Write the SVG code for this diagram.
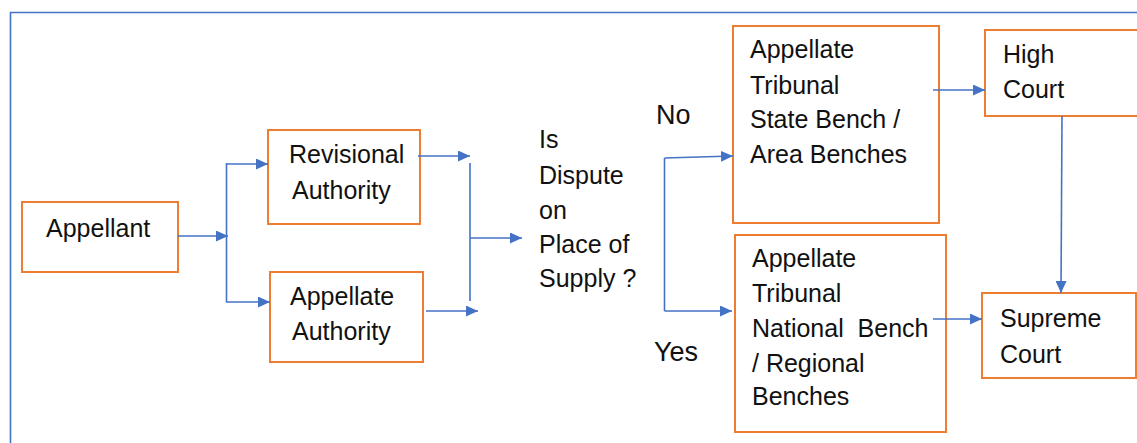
<svg xmlns="http://www.w3.org/2000/svg" width="1137" height="443" viewBox="0 0 1137 443">
  <style>
    .box { fill: #ffffff; stroke: #ED7D31; stroke-width: 2; }
    .lbl { font-family: "Liberation Sans", Arial, sans-serif; font-size: 25px; fill: #111111; }
    .big { font-size: 27px; }
    .wire { fill: none; stroke: #4472C4; stroke-width: 1.6; }
    .frame { fill: none; stroke: #4472C4; stroke-width: 1.6; }
  </style>
  <defs>
    <marker id="arrow" markerUnits="userSpaceOnUse" markerWidth="13" markerHeight="11" refX="12" refY="5.5" orient="auto">
      <path d="M0,0 L12,5.5 L0,11 z" fill="#4472C4"/>
    </marker>
  </defs>

  <rect width="1137" height="443" fill="#ffffff"/>
  <!-- outer border, open on the right and bottom -->
  <path class="frame" d="M10.5,443 V12.5 H1137"/>

  <g id="appellant">
    <rect class="box" x="22" y="202" width="156" height="70"/>
    <text class="lbl" x="46" y="237">Appellant</text>
  </g>

  <g id="revisional-authority">
    <rect class="box" x="268" y="130" width="152" height="94"/>
    <text class="lbl" x="289" y="163">Revisional</text>
    <text class="lbl" x="292" y="199">Authority</text>
  </g>

  <g id="appellate-authority">
    <rect class="box" x="270" y="272" width="153" height="90"/>
    <text class="lbl" x="290" y="305">Appellate</text>
    <text class="lbl" x="292" y="340">Authority</text>
  </g>

  <g id="question">
    <text class="lbl" x="539" y="148">Is</text>
    <text class="lbl" x="539" y="184">Dispute</text>
    <text class="lbl" x="539" y="219">on</text>
    <text class="lbl" x="539" y="253">Place of</text>
    <text class="lbl" x="539" y="287">Supply ?</text>
  </g>

  <g id="branch-labels">
    <text class="lbl big" x="656" y="124">No</text>
    <text class="lbl big" x="654" y="361">Yes</text>
  </g>

  <g id="tribunal-state">
    <rect class="box" x="733" y="26" width="206" height="197"/>
    <text class="lbl" x="750" y="58">Appellate</text>
    <text class="lbl" x="750" y="94">Tribunal</text>
    <text class="lbl" x="750" y="128">State Bench /</text>
    <text class="lbl" x="750" y="163">Area Benches</text>
  </g>

  <g id="tribunal-national">
    <rect class="box" x="735" y="235" width="211" height="197"/>
    <text class="lbl" x="752" y="267">Appellate</text>
    <text class="lbl" x="752" y="302">Tribunal</text>
    <text class="lbl" x="752" y="337" xml:space="preserve">National  Bench</text>
    <text class="lbl" x="752" y="372">/ Regional</text>
    <text class="lbl" x="752" y="405">Benches</text>
  </g>

  <g id="high-court">
    <rect class="box" x="985" y="30" width="160" height="86"/>
    <text class="lbl" x="1003" y="63">High</text>
    <text class="lbl" x="1003" y="98">Court</text>
  </g>

  <g id="supreme-court">
    <rect class="box" x="982" y="293" width="154" height="85"/>
    <text class="lbl" x="1000" y="327">Supreme</text>
    <text class="lbl" x="1000" y="363">Court</text>
  </g>

  <!-- connectors drawn last so their tails run slightly into the boxes -->
  <g id="connectors">
    <path class="wire" d="M178,236 H228" marker-end="url(#arrow)"/>
    <path class="wire" d="M226.5,163 V302.5"/>
    <path class="wire" d="M226.5,164 H268" marker-end="url(#arrow)"/>
    <path class="wire" d="M226.5,302 H270" marker-end="url(#arrow)"/>

    <path class="wire" d="M418,156 H470" marker-end="url(#arrow)"/>
    <path class="wire" d="M426,311 H478" marker-end="url(#arrow)"/>
    <path class="wire" d="M470,163 V301"/>
    <path class="wire" d="M470,238 H522" marker-end="url(#arrow)"/>

    <path class="wire" d="M664.5,158 V311"/>
    <path class="wire" d="M664.5,158 L733,156" marker-end="url(#arrow)"/>
    <path class="wire" d="M664.5,311 H732" marker-end="url(#arrow)"/>

    <path class="wire" d="M933,90 H985" marker-end="url(#arrow)"/>
    <path class="wire" d="M933,319 H982" marker-end="url(#arrow)"/>
    <path class="wire" d="M1062,116 L1061,293" marker-end="url(#arrow)"/>
  </g>
</svg>
